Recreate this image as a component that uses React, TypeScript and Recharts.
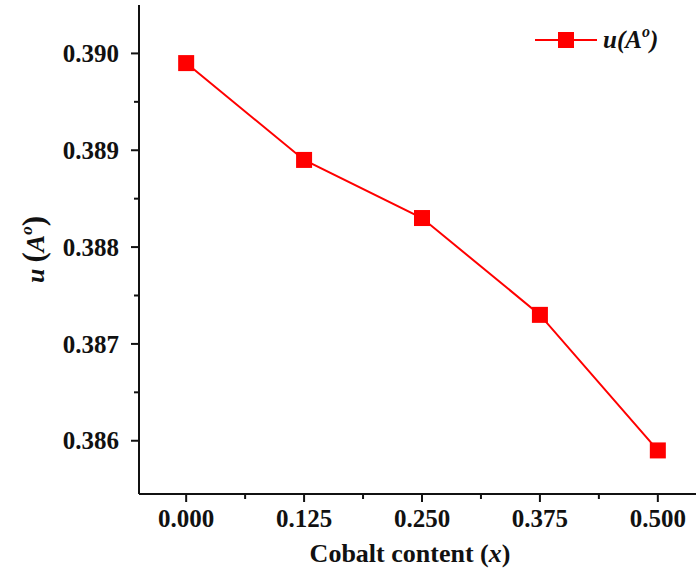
import { LineChart, Line, XAxis, YAxis, Legend } from "recharts";

const COBALT_X = [0, 0.125, 0.25, 0.375, 0.5];
const U_VALUES = [0.3899, 0.3889, 0.3883, 0.3873, 0.3859];

const X_MAJOR = [0, 0.125, 0.25, 0.375, 0.5];
const X_MINOR = [0.0625, 0.1875, 0.3125, 0.4375];
const Y_MAJOR = [0.386, 0.387, 0.388, 0.389, 0.39];
const Y_MINOR = [0.3865, 0.3875, 0.3885, 0.3895];

const DATA = COBALT_X.map((x, i) => ({ x, u: U_VALUES[i] }));

const RED = "#ff0000";
const INK = "#111";
const FONT = "'Liberation Serif', 'Times New Roman', serif";

const isIn = (v: number, list: number[]) => list.some((m) => Math.abs(m - v) < 1e-9);

function YTick(props: any) {
  const { x, y, payload } = props;
  const major = isIn(payload.value, Y_MAJOR);
  return (
    <g>
      <line x1={x} x2={x - (major ? 8 : 5)} y1={y} y2={y} stroke={INK} strokeWidth={2} />
      {major && (
        <text
          x={x - 20}
          y={y}
          dy="0.35em"
          textAnchor="end"
          fontFamily={FONT}
          fontWeight="bold"
          fontSize={25}
          fill={INK}
        >
          {payload.value.toFixed(3)}
        </text>
      )}
    </g>
  );
}

function XTick(props: any) {
  const { x, y, payload } = props;
  const major = isIn(payload.value, X_MAJOR);
  return (
    <g>
      <line x1={x} x2={x} y1={y} y2={y + (major ? 8 : 5)} stroke={INK} strokeWidth={2} />
      {major && (
        <text
          x={x}
          y={y + 33}
          textAnchor="middle"
          fontFamily={FONT}
          fontWeight="bold"
          fontSize={25}
          fill={INK}
        >
          {payload.value.toFixed(3)}
        </text>
      )}
    </g>
  );
}

function XTitle(props: any) {
  const { viewBox } = props;
  const cx = viewBox.x + viewBox.width / 2 - 12;
  return (
    <text x={cx} y={562} textAnchor="middle" fontFamily={FONT} fontWeight="bold" fontSize={26} fill={INK}>
      Cobalt content (<tspan fontStyle="italic">x</tspan>)
    </text>
  );
}

function YTitle(props: any) {
  const { viewBox } = props;
  const cy = viewBox.y + viewBox.height / 2;
  return (
    <text
      transform={`translate(44, ${cy}) rotate(-90)`}
      textAnchor="middle"
      fontFamily={FONT}
      fontWeight="bold"
      fontSize={26}
      fill={INK}
    >
      <tspan fontStyle="italic">u</tspan>
      <tspan fontSize={31} dx={6}>(</tspan>
      <tspan fontStyle="italic">A</tspan>
      <tspan fontStyle="italic" fontSize={17} dy={-12}>o</tspan>
      <tspan fontSize={31} dy={12}>)</tspan>
    </text>
  );
}

function LegendBox() {
  return (
    <svg width={160} height={40}>
      <line x1={5} x2={67} y1={20} y2={20} stroke={RED} strokeWidth={2} />
      <rect x={28} y={12} width={16} height={16} fill={RED} />
      <text x={73} y={28} fontFamily={FONT} fontWeight="bold" fontStyle="italic" fontSize={25} fill={INK}>
        u(A<tspan fontSize={16} dy={-11}>o</tspan>
        <tspan dy={11}>)</tspan>
      </text>
    </svg>
  );
}

function SquareDot(props: any) {
  const { cx, cy } = props;
  return <rect x={cx - 8} y={cy - 8} width={16} height={16} fill={RED} />;
}

export default function App() {
  return (
    <div
      style={{
        position: "absolute",
        left: 0,
        top: 0,
        width: 696,
        height: 573,
        overflow: "hidden",
        background: "#fff",
      }}
    >
      <LineChart width={720} height={573} data={DATA} margin={{ top: 5, right: 15, bottom: 0, left: 0 }}>
        <XAxis
          dataKey="x"
          type="number"
          domain={[-0.05, 0.55]}
          ticks={[...X_MAJOR, ...X_MINOR].sort((a, b) => a - b)}
          interval={0}
          height={79}
          tickSize={0}
          tickMargin={0}
          tickLine={false}
          tick={<XTick />}
          axisLine={{ stroke: INK, strokeWidth: 2 }}
          label={<XTitle />}
        />
        <XAxis
          xAxisId="top"
          orientation="top"
          dataKey="x"
          type="number"
          domain={[-0.05, 0.55]}
          height={0}
          tick={false}
          tickLine={false}
          axisLine={{ stroke: INK, strokeWidth: 2 }}
        />
        <YAxis
          type="number"
          domain={[0.38545, 0.3905]}
          ticks={[...Y_MAJOR, ...Y_MINOR].sort((a, b) => a - b)}
          interval={0}
          width={139}
          tickSize={0}
          tickMargin={0}
          tickLine={false}
          tick={<YTick />}
          axisLine={{ stroke: INK, strokeWidth: 2 }}
          label={<YTitle />}
        />
        <Legend
          layout="horizontal"
          verticalAlign="middle"
          align="center"
          content={<LegendBox />}
          wrapperStyle={{ top: 20, left: 530, width: 160 }}
        />
        <Line
          dataKey="u"
          name="u(A°)"
          stroke={RED}
          strokeWidth={2}
          dot={<SquareDot />}
          activeDot={false}
          isAnimationActive={false}
        />
      </LineChart>
    </div>
  );
}
